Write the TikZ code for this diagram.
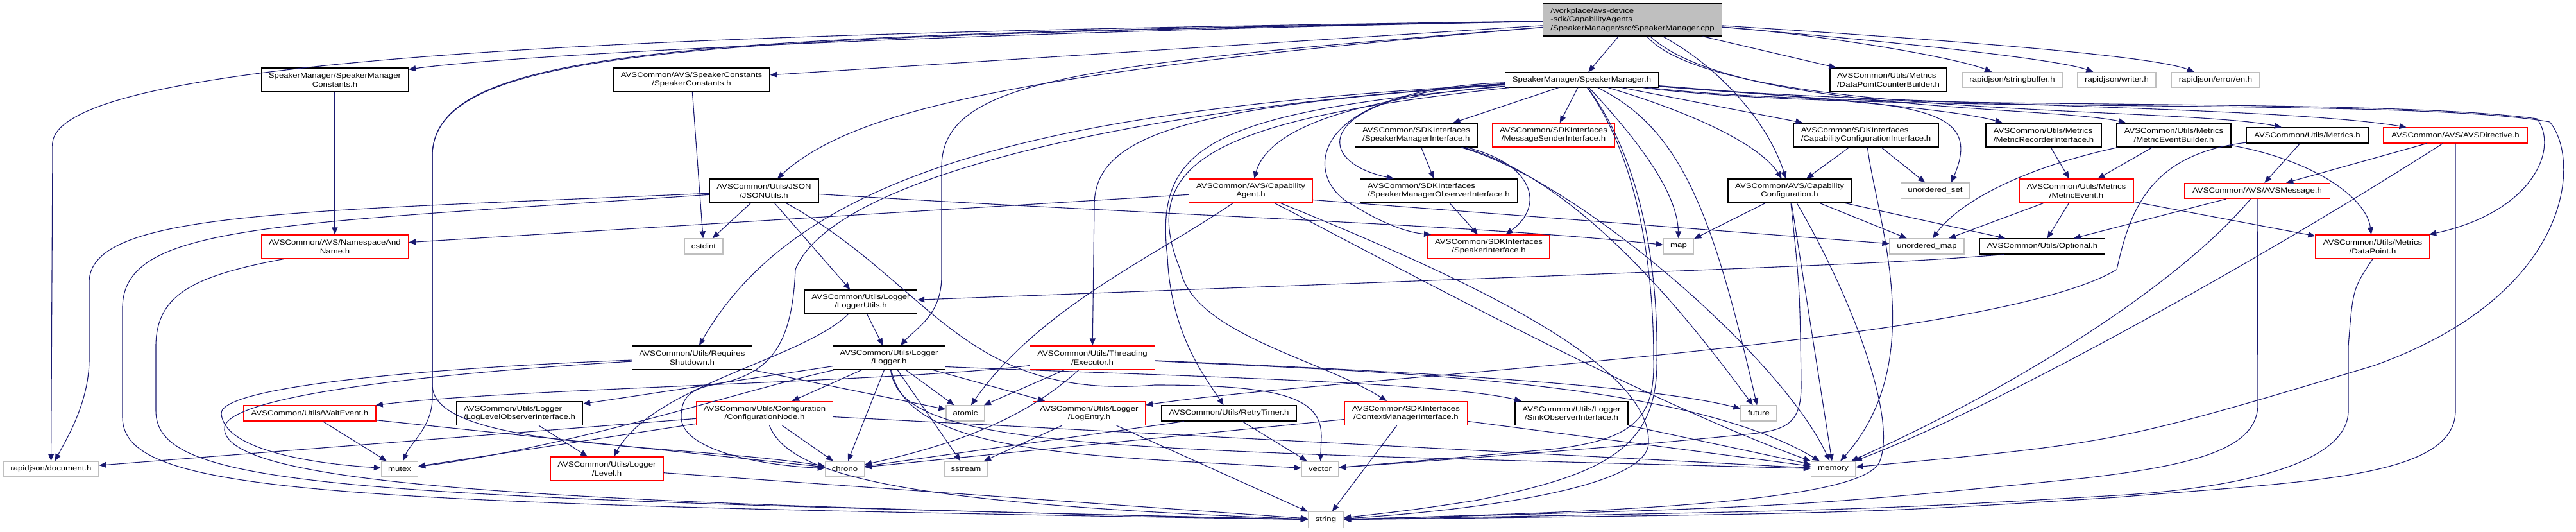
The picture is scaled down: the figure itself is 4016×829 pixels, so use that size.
\documentclass[tikz,border=0pt]{standalone}
\usepackage{fontspec}
\usetikzlibrary{arrows.meta}
\newfontfamily\dotfont{Liberation Sans}[FakeStretch=1.2]
\definecolor{dxedge}{HTML}{191970}
\definecolor{dxgray}{HTML}{BFBFBF}
\definecolor{dxred}{HTML}{FF0000}
\tikzset{
  hdr/.style={draw=black, fill=white, line width=1.3pt, inner sep=0pt,
    align=center, font=\dotfont\fontsize{11}{13.3}\selectfont},
  lhdr/.style={hdr, align=left},
  trunc/.style={hdr, draw=dxred},
  sys/.style={hdr, draw=dxgray},
  one/.style={minimum width=#1pt, minimum height=24pt},
  two/.style={minimum width=#1pt, minimum height=37pt},
  dep/.style={draw=dxedge, line width=1.1pt, -{Triangle[length=11pt,width=9pt]}},
}
\begin{document}
\begin{tikzpicture}[x=1pt, y=-1pt]
  \fill[white] (0,0) rectangle (4016,829);
  \useasboundingbox (0,0) rectangle (4016,829);

  \node[lhdr, fill=dxgray, minimum width=279pt, minimum height=50pt] (R) at (2545,31)
    {/workplace/avs-device\\-sdk/CapabilityAgents\\/SpeakerManager/src/SpeakerManager.cpp};
  \node[hdr, two=229] (SMC) at (522,124.5) {SpeakerManager/SpeakerManager\\Constants.h};
  \node[hdr, two=244] (SPC) at (1078,124.5) {AVSCommon/AVS/SpeakerConstants\\/SpeakerConstants.h};
  \node[hdr, one=239, minimum height=23pt] (SMH) at (2466,124.5) {SpeakerManager/SpeakerManager.h};
  \node[lhdr, two=182] (DPCB) at (2944,124.5) {AVSCommon/Utils/Metrics\\/DataPointCounterBuilder.h};
  \node[sys, one=156] (SBUF) at (3137,124.5) {rapidjson/stringbuffer.h};
  \node[sys, one=122] (WRT) at (3300,124.5) {rapidjson/writer.h};
  \node[sys, one=138] (EN) at (3454,124.5) {rapidjson/error/en.h};

  \node[lhdr, two=191] (SMI) at (2208,210.5) {AVSCommon/SDKInterfaces\\/SpeakerManagerInterface.h};
  \node[trunc, two=190] (MSI) at (2422,210.5) {AVSCommon/SDKInterfaces\\/MessageSenderInterface.h};
  \node[lhdr, two=226] (CCI) at (2909,210.5) {AVSCommon/SDKInterfaces\\/CapabilityConfigurationInterface.h};
  \node[lhdr, two=180] (MRI) at (3186,210.5) {AVSCommon/Utils/Metrics\\/MetricRecorderInterface.h};
  \node[hdr, two=178] (MEB) at (3389,210.5) {AVSCommon/Utils/Metrics\\/MetricEventBuilder.h};
  \node[hdr, one=190] (MET) at (3597,211) {AVSCommon/Utils/Metrics.h};
  \node[trunc, one=224] (AVD) at (3828,211) {AVSCommon/AVS/AVSDirective.h};

  \node[hdr, two=170] (JSON) at (1191,297.5) {AVSCommon/Utils/JSON\\/JSONUtils.h};
  \node[trunc, two=193] (CA) at (1950,297.5) {AVSCommon/AVS/Capability\\Agent.h};
  \node[lhdr, two=245] (SMO) at (2243,297.5) {AVSCommon/SDKInterfaces\\/SpeakerManagerObserverInterface.h};
  \node[hdr, two=192] (CAPCFG) at (2790,297.5) {AVSCommon/AVS/Capability\\Configuration.h};
  \node[sys, one=107] (USET) at (3017,297) {unordered\_set};
  \node[trunc, two=178] (MEV) at (3237,297.5) {AVSCommon/Utils/Metrics\\/MetricEvent.h};
  \node[trunc, one=227] (AVM) at (3519,297.5) {AVSCommon/AVS/AVSMessage.h};

  \node[trunc, two=229] (NAN) at (522,384.5) {AVSCommon/AVS/NamespaceAnd\\Name.h};
  \node[sys, one=60] (CST) at (1097,384) {cstdint};
  \node[trunc, two=190] (SPI) at (2321,384.5) {AVSCommon/SDKInterfaces\\/SpeakerInterface.h};
  \node[sys, one=47] (MAP) at (2617,384) {map};
  \node[sys, one=116] (UMAP) at (3004,384) {unordered\_map};
  \node[hdr, one=195] (OPT) at (3184,384) {AVSCommon/Utils/Optional.h};
  \node[trunc, two=178] (DP) at (3699,384.5) {AVSCommon/Utils/Metrics\\/DataPoint.h};

  \node[hdr, two=175] (LU) at (1342,470.5) {AVSCommon/Utils/Logger\\/LoggerUtils.h};

  \node[hdr, two=187] (RS) at (1079,557.5) {AVSCommon/Utils/Requires\\Shutdown.h};
  \node[hdr, two=175] (LOG) at (1386,557.5) {AVSCommon/Utils/Logger\\/Logger.h};
  \node[trunc, two=195] (EXE) at (1703,557.5) {AVSCommon/Utils/Threading\\/Executor.h};

  \node[trunc, one=206] (WE) at (483,644) {AVSCommon/Utils/WaitEvent.h};
  \node[lhdr, two=197] (LLO) at (810,644) {AVSCommon/Utils/Logger\\/LogLevelObserverInterface.h};
  \node[trunc, two=213] (CFG) at (1192,644) {AVSCommon/Utils/Configuration\\/ConfigurationNode.h};
  \node[sys, one=60] (ATOM) at (1505,644) {atomic};
  \node[trunc, two=175] (LE) at (1698,644) {AVSCommon/Utils/Logger\\/LogEntry.h};
  \node[hdr, one=210] (RT) at (1916,644) {AVSCommon/Utils/RetryTimer.h};
  \node[trunc, two=191] (CMI) at (2192,644) {AVSCommon/SDKInterfaces\\/ContextManagerInterface.h};
  \node[hdr, two=176] (SINK) at (2450,644) {AVSCommon/Utils/Logger\\/SinkObserverInterface.h};
  \node[sys, one=56] (FUT) at (2742,644) {future};

  \node[sys, one=149] (DOC) at (79.5,731) {rapidjson/document.h};
  \node[sys, one=57] (MUT) at (623,731) {mutex};
  \node[trunc, two=176] (LVL) at (946,730.5) {AVSCommon/Utils/Logger\\/Level.h};
  \node[sys, one=61] (CHR) at (1317,731) {chrono};
  \node[sys, one=68] (SSTR) at (1506,731) {sstream};
  \node[sys, one=57] (VEC) at (2058,731) {vector};
  \node[sys, one=69] (MEM) at (2858,731) {memory};
  \node[sys, one=55, minimum height=25pt] (STR) at (2067,810) {string};

  % short includes
  \foreach \a/\b in {R/SMH, R/SPC, R/DPCB, SMH/SMI, SMH/MSI, SMH/CCI, SMC/NAN, SPC/CST,
      JSON/CST, JSON/LU, CA/NAN, SMI/SMO, SMO/SPI, CCI/CAPCFG, CCI/USET, CAPCFG/MAP,
      CAPCFG/UMAP, CAPCFG/OPT, CAPCFG/MEM, MRI/MEV, MEB/MEV, MET/AVM, AVD/AVM, MEV/UMAP,
      MEV/OPT, MEV/DP, AVM/OPT, LU/LOG, LOG/LLO, LOG/CFG, LOG/ATOM, LOG/LE, LOG/SSTR,
      LOG/CHR, RS/ATOM, EXE/ATOM, LLO/LVL, CFG/CHR, CFG/DOC, CFG/MUT, CFG/MEM, LE/SSTR,
      LE/STR, RT/VEC, WE/MUT, WE/CHR, CMI/STR, CMI/CHR, CMI/MEM, SINK/MEM, LVL/STR}
    \draw[dep] (\a) -- (\b);

  % from the .cpp
  \draw[dep] (R) .. controls (1500,50) and (800,85) .. (SMC);
  \draw[dep] (R) .. controls (1600,110) and (1330,170) .. (JSON);
  \draw[dep] (R) .. controls (1200,50) and (60,75) .. (82,230) -- (DOC);
  \draw[dep] (R) .. controls (1700,100) and (1468,120) .. (1468,260) -- (1468,430)
    .. controls (1468,490) and (1430,510) .. (LOG);
  \draw[dep] (R) .. controls (1100,55) and (680,70) .. (674,240) -- (674,620)
    .. controls (674,665) and (640,690) .. (MUT);
  \draw[dep] (R) .. controls (1100,57) and (680,72) .. (674,240) -- (674,600)
    .. controls (674,700) and (1050,690) .. (CHR);
  \draw[dep] (R) .. controls (2850,55) and (3050,90) .. (SBUF);
  \draw[dep] (R) .. controls (2900,60) and (3200,90) .. (WRT);
  \draw[dep] (R) .. controls (3000,60) and (3350,85) .. (EN);
  \draw[dep] (R) .. controls (2690,110) and (2760,200) .. (CAPCFG);
  \draw[dep] (R) .. controls (2700,175) and (3200,165) .. ([xshift=-75pt]MEB.north);
  \draw[dep] (R) .. controls (2680,185) and (3400,165) .. ([xshift=-40pt]MET.north);

  % from SpeakerManager.h
  \draw[dep] (SMH) .. controls (2150,150) and (1980,190) .. (CA);
  \draw[dep] (SMH) .. controls (2050,145) and (2040,250) .. ([xshift=-70pt]SMO.north);
  \draw[dep] (SMH) .. controls (2030,140) and (2030,280) .. (2110,320)
    .. controls (2150,345) and (2190,362) .. ([xshift=-90pt]SPI.north);
  \draw[dep] (SMH) .. controls (2620,170) and (2740,220) .. (CAPCFG);
  \draw[dep] (SMH) .. controls (2800,150) and (3050,170) .. (MRI);
  \draw[dep] (SMH) .. controls (2950,165) and (3100,150) .. ([xshift=25pt]USET.north);
  \draw[dep] (SMH) .. controls (2950,165) and (3550,165) .. (AVD);
  \draw[dep] (SMH) .. controls (2555,220) and (2615,300) .. (MAP);
  \draw[dep] (SMH) .. controls (2620,200) and (2670,330) .. (FUT);
  \draw[dep] (SMH) .. controls (1650,170) and (1250,260) .. (RS);
  \draw[dep] (SMH) .. controls (1800,165) and (1300,270) .. (1240,420)
    .. controls (1235,540) and (1200,585) .. (1110,600)
    .. controls (1070,608) and (1062,625) .. (1062,650)
    .. controls (1062,700) and (1180,725) .. (CHR);
  \draw[dep] (SMH) .. controls (1850,165) and (1706,210) .. (1706,320) -- (EXE);
  \draw[dep] (SMH) .. controls (1880,175) and (1800,230) .. (1820,400)
    .. controls (1825,520) and (1880,590) .. (RT);
  \draw[dep] (SMH) .. controls (1900,185) and (1770,250) .. (1840,420)
    .. controls (1860,520) and (2060,560) .. (CMI);
  \draw[dep] (SMH) .. controls (2560,250) and (2585,420) .. (2583,560)
    .. controls (2585,700) and (2500,740) .. (2300,780) .. controls (2200,795) .. (STR);
  \draw[dep] (SMH) .. controls (2555,250) and (2578,420) .. (2578,560)
    .. controls (2580,650) and (2550,685) .. (2420,700) .. controls (2250,715) .. (VEC);
  \draw[dep] (SMH) .. controls (2900,175) and (3700,150) .. (3955,185)
    .. controls (3990,230) and (3950,330) .. (DP);
  \draw[dep] (SMH) .. controls (2900,180) and (3750,150) .. (3975,190)
    .. controls (4025,250) and (4010,460) .. (3700,570) .. controls (3300,690) .. (MEM);

  % second level
  \draw[dep] (JSON) .. controls (450,330) and (139,330) .. (139,440) -- (139,560)
    .. controls (139,630) and (100,690) .. (DOC);
  \draw[dep] (JSON) .. controls (420,350) and (191,350) .. (191,480) -- (191,650)
    .. controls (191,770) and (500,785) .. (STR);
  \draw[dep] ([yshift=-5pt]JSON.east) .. controls (1800,335) and (2300,350) .. (MAP);
  \draw[dep] (JSON) .. controls (1450,440) and (1500,625) .. (1800,600)
    .. controls (2000,600) and (2060,620) .. (2060,680) -- (VEC);
  \draw[dep] ([xshift=-80pt]NAN.south) .. controls (300,430) and (243,460) .. (243,540)
    -- (243,640) .. controls (243,760) and (520,775) .. (STR);
  \draw[dep] ([yshift=-14pt]CA.east) -- (UMAP);
  \draw[dep] (CA) .. controls (1800,400) and (1620,480) .. (ATOM);
  \draw[dep] (CA) .. controls (2150,400) and (2550,620) .. (MEM);
  \draw[dep] (CA) .. controls (2250,420) and (2575,560) .. (2570,690)
    .. controls (2570,760) and (2300,795) .. (STR);
  \draw[dep] (SMI) .. controls (2390,255) and (2410,320) .. (SPI);
  \draw[dep] (SMI) .. controls (2470,280) and (2650,520) .. (FUT);
  \draw[dep] (SMI) .. controls (2460,280) and (2780,560) .. (MEM);
  \draw[dep] (CCI) .. controls (2925,340) and (3010,560) .. (MEM);
  \draw[dep] (CAPCFG) .. controls (2806,450) .. (2808,600)
    .. controls (2808,655) and (2790,668) .. (2740,675)
    .. controls (2500,700) and (2200,720) .. (VEC);
  \draw[dep] (CAPCFG) .. controls (2880,450) and (2960,650) .. (2930,720)
    .. controls (2900,790) and (2400,800) .. (STR);
  \draw[dep] (MEB) .. controls (3140,265) and (3050,320) .. (UMAP);
  \draw[dep] (MEB) .. controls (3610,250) and (3690,310) .. (DP);
  \draw[dep] (MET) .. controls (3350,240) and (3320,330) .. (3300,420)
    .. controls (3100,540) and (2100,585) .. (LE);
  \draw[dep] (AVD.south) -- (3828,640) .. controls (3828,745) and (3600,750) .. (3300,775)
    .. controls (2900,800) .. (STR);
  \draw[dep] (AVM.south) -- (3520,630) .. controls (3520,700) and (3420,725) .. (3250,745)
    .. controls (2800,790) .. (STR);
  \draw[dep] (DP.south) .. controls (3668,450) .. (3661,540) -- (3661,640)
    .. controls (3661,720) and (3500,760) .. (3300,772) .. controls (2900,795) .. (STR);
  \draw[dep] (AVD) .. controls (3500,420) and (3100,640) .. (MEM);
  \draw[dep] (AVM) .. controls (3400,440) and (3150,600) .. (MEM);
  \draw[dep] ([xshift=-60pt]OPT.south) .. controls (2950,410) .. (LU);

  % logger and below
  \draw[dep] (LU) .. controls (1250,560) and (1020,600) .. (LVL);
  \draw[dep] (LOG) .. controls (1150,610) and (900,695) .. (MUT);
  \draw[dep] ([yshift=-14pt]LOG.east) .. controls (1800,585) and (2250,595) .. (SINK);
  \draw[dep] (LOG) .. controls (1415,710) and (1700,710) .. (VEC);
  \draw[dep] (LOG) .. controls (1405,700) and (1700,700) .. (MEM);
  \draw[dep] (EXE) .. controls (1400,595) and (800,605) .. (WE);
  \draw[dep] (EXE) .. controls (1600,650) and (1500,690) .. (CHR);
  \draw[dep] (EXE) .. controls (2100,575) and (2550,595) .. (FUT);
  \draw[dep] (EXE) .. controls (2150,580) and (2620,590) .. (MEM);
  \draw[dep] (RS) .. controls (700,572) and (340,600) .. (345,645)
    .. controls (350,700) and (480,722) .. (MUT);
  \draw[dep] (RS) .. controls (700,580) and (340,615) .. (350,670)
    .. controls (360,760) and (900,785) .. (STR);
  \draw[dep] (CFG) .. controls (1230,740) and (1400,785) .. (STR);
  \draw[dep] ([xshift=-70pt]RT.south) -- (CHR);
\end{tikzpicture}
\end{document}
